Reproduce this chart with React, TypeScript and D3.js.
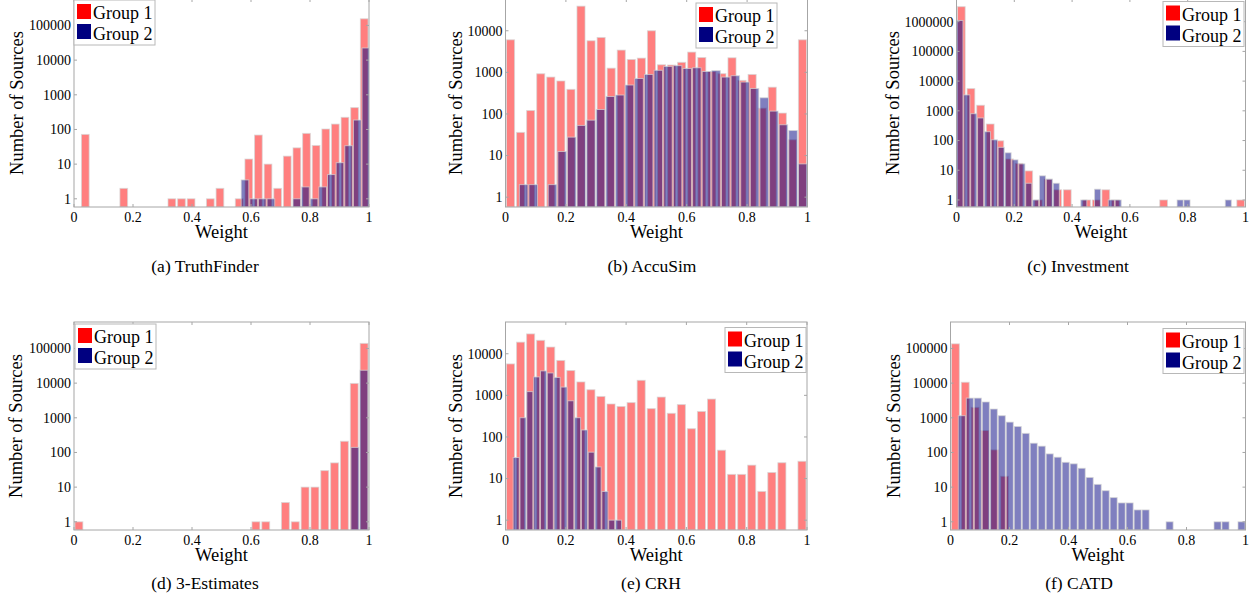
import React from "react"
import { scaleLinear, scaleLog } from "d3"

const width = 1253
const height = 600

const weightTicks = [0, 0.2, 0.4, 0.6, 0.8, 1]
const groupNames = ["Group 1", "Group 2"]
const yMin = 0.58

// (a) TruthFinder
const truthFinderRange1 = [0.022, 1.0]
const truthFinderGroup1 = [72, 0, 0, 0, 2, 0, 0, 0, 0, 1, 1, 1, 0, 1, 2, 0, 1, 14, 69, 10, 2, 17, 29.5, 77, 34.5, 103, 143, 224, 427, 156000]
const truthFinderRange2 = [0.565, 1.004]
const truthFinderGroup2 = [3.5, 1, 1, 1, 0, 0, 1, 2.2, 1, 2.2, 5, 11, 34, 187, 22400]

// (b) AccuSim
const accuSimRange1 = [0, 1]
const accuSimGroup1 = [6060, 36, 121, 925, 770, 620, 390, 39000, 5750, 6900, 1260, 3430, 2040, 2200, 10000, 1520, 1500, 1740, 3070, 2270, 1050, 930, 2240, 640, 890, 138, 440, 105, 24, 6060]
const accuSimRange2 = [0.044, 1.0]
const accuSimGroup2 = [2, 2, 0, 2, 12.5, 27.7, 53, 71, 128, 263, 285, 496, 712, 890, 1120, 1390, 1450, 1240, 1290, 1050, 1100, 770, 830, 584, 410, 245, 117, 55, 40, 6.3]

// (c) Investment
const investmentRange1 = [0, 1]
const investmentGroup1 = [3200000, 5600, 1540, 360, 98, 24, 17, 9.5, 1, 5, 2.2, 2.2, 0, 1, 1, 2.2, 1, 0, 0, 0, 0, 1, 0, 0, 0, 0, 0, 0, 0, 1]
const investmentRange2 = [0, 1]
const investmentGroup2 = [1100000, 3430, 800, 575, 198, 106, 59, 38.7, 22.4, 16.4, 3.65, 1, 6.5, 5, 3.65, 0, 0, 0, 1, 0, 2.3, 0, 1, 1, 0, 0, 0, 0, 0, 0, 0, 0, 1, 1, 0, 0, 0, 0, 0, 1, 0, 0]

// (d) 3-Estimates
const estimatesRange1 = [0, 1]
const estimatesGroup1 = [1, 0, 0, 0, 0, 0, 0, 0, 0, 0, 0, 0, 0, 0, 0, 0, 0, 0, 1, 1, 0, 3.6, 1, 10, 10, 30, 50, 210, 9800, 140000]
const estimatesRange2 = [0.937, 0.998]
const estimatesGroup2 = [140, 23500]

// (e) CRH
const crhRange1 = [0, 1]
const crhGroup1 = [5700, 19000, 30000, 21000, 14500, 6900, 3950, 2100, 1365, 940, 620, 540, 670, 2300, 480, 910, 370, 600, 158, 410, 815, 48, 12.6, 12.6, 21, 4.9, 14, 24, 0, 26]
const crhRange2 = [0.0241, 0.3863]
const crhGroup2 = [32, 290, 1230, 2770, 3870, 3450, 2700, 1580, 740, 290, 147, 43, 19, 4.9, 1, 1]

// (f) CATD
const catdRange1 = [0, 1]
const catdGroup1 = [136000, 10600, 2000, 430, 119, 20.6, 0, 0, 0, 0, 0, 0, 0, 0, 0, 0, 0, 0, 0, 0, 0, 0, 0, 0, 0, 0, 0, 0, 0, 0]
const catdRange2 = [0.0249, 1.0]
const catdGroup2 = [1150, 3700, 3700, 2860, 1790, 1150, 750, 560, 355, 185, 152, 91, 73, 52, 47, 35, 19, 12, 7.9, 5, 3.5, 3.5, 2.2, 2.2, 0, 0, 1, 0, 0, 0, 0, 0, 1, 1, 0, 1]

const ticks5 = [1, 10, 100, 1000, 10000, 100000]
const ticks4 = [1, 10, 100, 1000, 10000]
const ticks6 = [1, 10, 100, 1000, 10000, 100000, 1000000]

const font = "'Liberation Serif', 'Times New Roman', serif"
const axisColor = "#a6a6a6"
const red = "#ff0000"
const navy = "#000080"

const panels = [
  { id: "a", caption: "(a) TruthFinder", r1: truthFinderRange1, g1: truthFinderGroup1, r2: truthFinderRange2, g2: truthFinderGroup2,
    yMax: 580000, yTicks: ticks5, left: 74, right: 369, top: -1, bottom: 207, yLabelX: 17, legend: [74, 0], capX: 205, capY: 272 },
  { id: "b", caption: "(b) AccuSim", r1: accuSimRange1, g1: accuSimGroup1, r2: accuSimRange2, g2: accuSimGroup2,
    yMax: 58000, yTicks: ticks4, left: 505.5, right: 807.5, top: -1, bottom: 207, yLabelX: 456, legend: [696, 3], capX: 652, capY: 272 },
  { id: "c", caption: "(c) Investment", r1: investmentRange1, g1: investmentGroup1, r2: investmentRange2, g2: investmentGroup2,
    yMax: 5800000, yTicks: ticks6, left: 956.5, right: 1245.5, top: -1, bottom: 207, yLabelX: 893, legend: [1163, 1.5], capX: 1078, capY: 272 },
  { id: "d", caption: "(d) 3-Estimates", r1: estimatesRange1, g1: estimatesGroup1, r2: estimatesRange2, g2: estimatesGroup2,
    yMax: 580000, yTicks: ticks5, left: 74, right: 369, top: 322, bottom: 530, yLabelX: 16, legend: [75, 324], capX: 205, capY: 589 },
  { id: "e", caption: "(e) CRH", r1: crhRange1, g1: crhGroup1, r2: crhRange2, g2: crhGroup2,
    yMax: 58000, yTicks: ticks4, left: 505.5, right: 807, top: 322, bottom: 530, yLabelX: 456, legend: [725, 327.5], capX: 651, capY: 589 },
  { id: "f", caption: "(f) CATD", r1: catdRange1, g1: catdGroup1, r2: catdRange2, g2: catdGroup2,
    yMax: 580000, yTicks: ticks5, left: 950.5, right: 1245.5, top: 322, bottom: 530, yLabelX: 894, legend: [1163, 328.5], capX: 1079, capY: 589 },
]

function Panel({ p }) {
  const x = scaleLinear().domain([0, 1]).range([p.left, p.right])
  const y = scaleLog().domain([yMin, p.yMax]).range([p.bottom, p.top])
  const tick = 3

  const bars = (counts, range, frac, color, key) => {
    const w = (range[1] - range[0]) / counts.length
    return counts.map((c, i) => {
      if (!c) return null
      const x0 = range[0] + w * i + (w * (1 - frac)) / 2
      const x1 = x0 + w * frac
      return (
        <rect key={key + i} x={x(x0)} y={y(c)} width={x(x1) - x(x0)} height={p.bottom - y(c)}
          fill={color} fillOpacity={0.5} stroke="#d6d6d6" strokeOpacity={0.7} strokeWidth={1} />
      )
    })
  }

  const midY = (p.top + p.bottom) / 2
  const [lx, ly] = p.legend

  return (
    <g>
      <defs>
        <clipPath id={"clip-" + p.id}>
          <rect x={p.left} y={p.top} width={p.right - p.left} height={p.bottom - p.top} />
        </clipPath>
      </defs>
      <g clipPath={`url(#clip-${p.id})`}>
        {bars(p.g1, p.r1, 0.8, red, "r")}
        {bars(p.g2, p.r2, 0.88, navy, "b")}
      </g>
      <rect x={p.left} y={p.top} width={p.right - p.left} height={p.bottom - p.top} fill="none" stroke={axisColor} />
      {weightTicks.map(t => (
        <g key={"xt" + t}>
          <line x1={x(t)} x2={x(t)} y1={p.bottom} y2={p.bottom - tick} stroke={axisColor} />
          <line x1={x(t)} x2={x(t)} y1={p.top} y2={p.top + tick} stroke={axisColor} />
          <text x={x(t)} y={p.bottom + 14.5} textAnchor="middle" fontSize={14} fontFamily={font}>{String(t)}</text>
        </g>
      ))}
      {p.yTicks.map(t => (
        <g key={"yt" + t}>
          <line x1={p.left} x2={p.left + tick} y1={y(t)} y2={y(t)} stroke={axisColor} />
          <line x1={p.right} x2={p.right - tick} y1={y(t)} y2={y(t)} stroke={axisColor} />
          <text x={p.left - 3} y={y(t)} dy="0.35em" textAnchor="end" fontSize={14} fontFamily={font}>{String(t)}</text>
        </g>
      ))}
      <text x={(p.left + p.right) / 2} y={p.bottom + 31} textAnchor="middle" fontSize={18.5} fontFamily={font}>Weight</text>
      <text transform={`translate(${p.yLabelX}, ${midY}) rotate(-90)`} dy="0.35em" textAnchor="middle" fontSize={18.5} fontFamily={font}>Number of Sources</text>
      <g>
        <rect x={lx} y={ly} width={81} height={45} fill="#fff" stroke="#b8b8b8" />
        <rect x={lx + 3} y={ly + 4} width={14} height={15} fill={red} />
        <rect x={lx + 3} y={ly + 24} width={14} height={15} fill={navy} />
        <text x={lx + 19} y={ly + 19} fontSize={18} fontFamily={font}>{groupNames[0]}</text>
        <text x={lx + 19} y={ly + 40} fontSize={18} fontFamily={font}>{groupNames[1]}</text>
      </g>
      <text x={p.capX} y={p.capY} textAnchor="middle" fontSize={17.5} fontFamily={font}>{p.caption}</text>
    </g>
  )
}

export default function App() {
  return (
    <svg width={width} height={height} style={{ position: "absolute", left: 0, top: 0, background: "#fff" }}>
      {panels.map(p => <Panel key={p.id} p={p} />)}
    </svg>
  )
}
